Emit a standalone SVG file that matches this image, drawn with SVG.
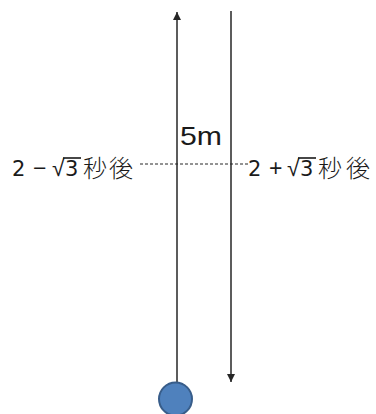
<svg xmlns="http://www.w3.org/2000/svg" width="376" height="414" viewBox="0 0 376 414">
<defs>
<style>
.ln{stroke:#262626;stroke-width:1.5;fill:none}
.dash{stroke:#262626;stroke-width:1;stroke-dasharray:3 2;fill:none}
.t{font-family:"Liberation Sans","Noto Sans CJK JP",sans-serif;font-size:23px;fill:#1a1a1a}
.d{font-family:"DejaVu Sans",sans-serif;font-size:21px}
.cjk{font-family:"Noto Sans CJK JP",sans-serif;font-size:24px;font-weight:300}
.ov{stroke:#1a1a1a;stroke-width:1.6}
</style>
<marker id="ah" viewBox="0 0 10 10" refX="10" refY="5" markerWidth="8" markerHeight="9" markerUnits="userSpaceOnUse" orient="auto">
<path d="M0,0 L10,5 L0,10 Z" fill="#262626"/>
</marker>
</defs>
<g id="connectors">
<line class="ln" x1="177" y1="382" x2="177" y2="12" marker-end="url(#ah)"/>
<line class="ln" x1="231" y1="11" x2="231" y2="382" marker-end="url(#ah)"/>
<line class="dash" x1="140" y1="164" x2="248" y2="164"/>
</g>
<g id="ball">
<circle cx="175.5" cy="399" r="16.5" fill="#4F81BD" stroke="#385D8A" stroke-width="2"/>
</g>
<g id="label-5m">
<text class="t" x="180" y="145" style="font-size:25px" textLength="42" lengthAdjust="spacingAndGlyphs">5m</text>
</g>
<g id="label-left">
<text class="t" y="176"><tspan class="d" x="12">2</tspan><tspan x="33">−</tspan><tspan x="52">√</tspan><tspan class="d" x="65">3</tspan><tspan class="cjk" x="83" y="177">秒</tspan><tspan class="cjk" x="109" y="177">後</tspan></text>
<line class="ov" x1="63" y1="158" x2="81" y2="158"/>
</g>
<g id="label-right">
<text class="t" y="176"><tspan class="d" x="248">2</tspan><tspan x="269">+</tspan><tspan x="287">√</tspan><tspan class="d" x="300">3</tspan><tspan class="cjk" x="318" y="177">秒</tspan><tspan class="cjk" x="346" y="177">後</tspan></text>
<line class="ov" x1="298" y1="158" x2="316" y2="158"/>
</g>
</svg>
